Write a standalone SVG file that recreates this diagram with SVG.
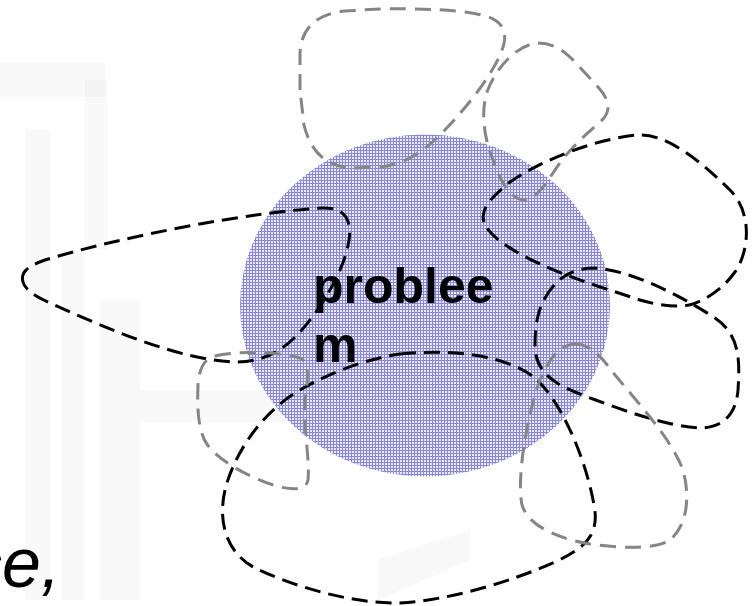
<svg xmlns="http://www.w3.org/2000/svg" width="756" height="606" viewBox="0 0 756 606">
<defs>
<pattern id="hatch" x="0" y="0" width="3" height="3" patternUnits="userSpaceOnUse">
<rect width="3" height="3" fill="#e8e8f9"/>
<rect width="1" height="3" fill="#8888d2"/>
<rect width="3" height="1" fill="#8888d2"/>
</pattern>
</defs>
<style>
.wm{fill:#000;opacity:0.025}
.blk{fill:none;stroke:#000;stroke-width:3;stroke-dasharray:16 8}
.gry{fill:none;stroke:#858585;stroke-width:3;stroke-dasharray:16 9}
.lbl{font-family:"Liberation Sans",Arial,sans-serif;font-weight:bold;font-size:50px;fill:#000}
.big{font-family:"Liberation Sans",Arial,sans-serif;font-style:italic;font-size:70px;fill:#000}
</style>
<rect width="756" height="606" fill="#fff"/>
<g id="watermark">
<rect class="wm" x="0" y="62" width="105" height="35"/>
<rect class="wm" x="85" y="80" width="22" height="170"/>
<rect class="wm" x="25" y="130" width="25" height="470"/>
<rect class="wm" x="62" y="250" width="22" height="350"/>
<rect class="wm" x="100" y="300" width="40" height="300"/>
<rect class="wm" x="140" y="390" width="160" height="32"/>
<polygon class="wm" points="378,560 470,530 470,560 378,600"/>
</g>
<g id="problem">
<ellipse cx="425" cy="305.5" rx="185" ry="171" fill="url(#hatch)"/>
<text class="lbl" x="313" y="303">problee</text>
<text class="lbl" x="313" y="362">m</text>
</g>
<g id="note">
<text class="big" x="-33" y="587">ce,</text>
</g>
<g id="connectors">
<path id="blobA" class="gry" d="M300,90 L300,55 C300,30 315,14 345,11 L380,9 C420,8 460,10 482,15 C505,20 508,35 502,50 C495,70 470,105 440,135 C420,155 400,166 378,167 L355,168 C325,168 310,150 304,125 Z"/>
<path id="blobB" class="gry" d="M538,43 C555,43 565,52 575,62 L598,87 C610,100 612,112 600,122 C585,135 568,150 555,170 C545,185 535,200 525,200 C510,200 500,180 493,160 C485,140 480,115 487,92 C495,70 515,45 538,43 Z"/>
<path id="blobC" class="blk" d="M484,222 C480,210 490,198 510,182 C545,158 600,138 638,135 C665,133 700,160 730,190 C752,212 750,250 735,272 C722,290 705,300 693,304 C680,308 660,306 640,300 C610,290 570,278 540,264 C510,250 488,235 484,222 Z"/>
<path id="blobD" class="blk" d="M545,298 C555,280 570,268 595,268 C630,270 680,295 715,318 C740,335 740,360 738,390 C736,415 722,428 700,428 C670,427 620,410 575,392 C545,380 535,365 535,345 C535,325 538,310 545,298 Z"/>
<path id="blobE" class="blk" d="M400,354 C460,348 510,358 535,378 C560,400 585,455 594,505 C600,535 585,548 555,562 C510,582 450,600 400,603 C350,604 290,585 255,568 C225,552 218,520 225,490 C235,450 265,410 300,390 C330,372 370,358 400,354 Z"/>
<path id="blobF" class="blk" d="M23,282 C20,272 28,266 45,260 C120,237 250,212 322,208 C345,207 352,220 349,240 C345,270 320,310 300,332 C282,352 262,362 235,362 C180,360 110,330 50,303 C35,296 25,290 23,282 Z"/>
<path id="blobG" class="gry" d="M215,356 C240,350 280,352 300,358 C310,362 308,380 305,400 C303,425 310,460 308,480 C306,490 295,490 280,487 C255,480 225,465 210,448 C198,435 197,410 198,385 C199,368 205,358 215,356 Z"/>
<path id="blobH" class="gry" d="M575,344 C590,344 600,355 615,375 C640,405 672,440 683,470 C690,495 688,525 670,540 C655,550 620,548 590,544 C555,538 528,525 522,505 C517,480 525,430 535,395 C542,370 555,345 575,344 Z"/>
</g>
</svg>
